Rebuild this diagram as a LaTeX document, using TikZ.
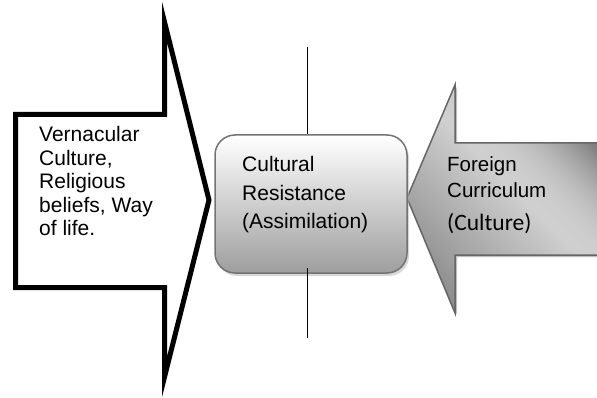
\documentclass[tikz,border=0pt]{standalone}
\usepackage{fontspec}
\setmainfont{Liberation Sans}
\newfontfamily\calibri{Carlito}
\usetikzlibrary{positioning}
\usetikzlibrary{calc}
\usetikzlibrary{shadows}

\begin{document}
\begin{tikzpicture}[x=1pt,y=-1pt,
	box/.style={draw=black!55,line width=1.5pt,rounded corners=20pt,top color=white,bottom color=black!38,minimum width=192pt,minimum height=138pt,drop shadow={shadow xshift=2pt,shadow yshift=-3pt,fill=black!30}},
	txt/.style={inner sep=0pt,anchor=north west,align=left}]
	\useasboundingbox (0,0) rectangle (597,398);
	\draw[line width=5pt,fill=white] (15.5,114.5) -- (164.5,114.5) -- (164.5,22) -- (209,200) -- (164.5,377) -- (164.5,287.5) -- (15.5,287.5) -- cycle;
	\def\curarrow{(600,143) -- (455,143) -- (455,85) -- (407,198) -- (455,313) -- (455,255) -- (600,255) -- cycle}
	\fill[black!25,shift={(2,2)}] \curarrow;
	\begin{scope}
		\clip \curarrow;
		\foreach \t in {80,84,...,540}{
			\pgfmathsetmacro\shadep{\t<320 ? min(50,19+(320-\t)*0.15) : (\t<330 ? 19 : min(50,19+0.23*((\t-330)/10)^2))}
			\fill[black!\shadep] (\t+60,60) -- (\t+65,60) -- (\t+345,340) -- (\t+340,340) -- cycle;
		}
	\end{scope}
	\draw[black!60,line width=1.5pt] \curarrow;
	\node[box] (resist) at (311,204) {};
	\node[txt,font=\fontsize{21}{23.4}\selectfont] (vern) at (39,126.5) {Vernacular\\Culture,\\Religious\\beliefs, Way\\of life.};
	\node[txt,font=\fontsize{21}{28.3}\selectfont] (resisttext) at (242,156.5) {Cultural\\Resistance\\(Assimilation)};
	\node[txt,font=\fontsize{20.5}{26.7}\selectfont] (foreign) at (447,156) {Foreign\\Curriculum\\[5.7pt]{\calibri\fontsize{23.5}{26.7}\selectfont(Culture)}};
	\coordinate (topend) at (307,47);
	\coordinate (botend) at (307,338);
	\draw[line width=1pt] (topend) -- (topend |- resist.north);
	\draw[line width=1pt] (botend) -- ($(botend |- resist.south)+(0,-6)$);
\end{tikzpicture}
\end{document}
